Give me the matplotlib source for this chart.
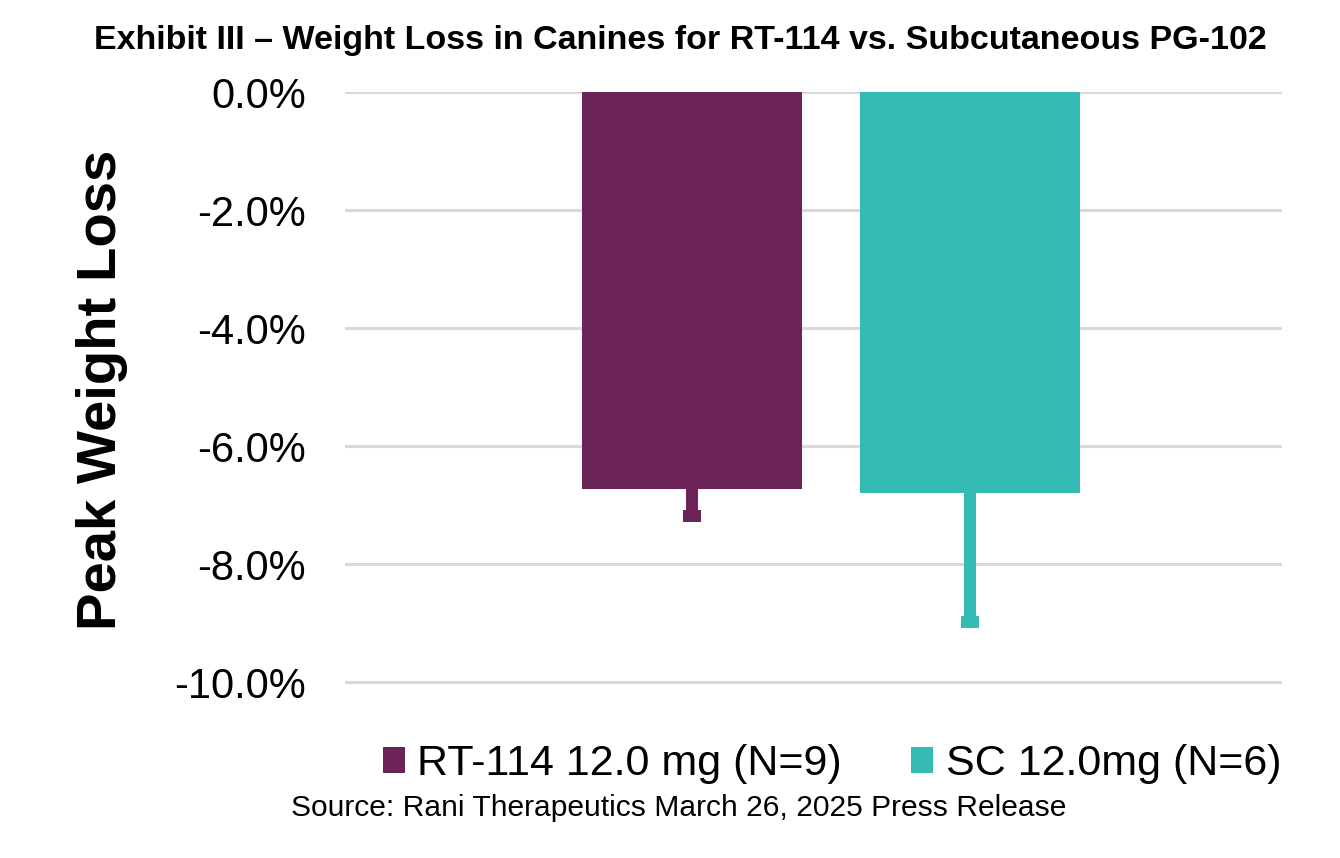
import matplotlib
matplotlib.use("Agg")
import matplotlib.pyplot as plt
from matplotlib.patches import Patch
from matplotlib.ticker import FuncFormatter

plt.rcParams['font.family'] = ['Liberation Sans', 'DejaVu Sans']

series = ["RT-114 12.0 mg (N=9)", "SC 12.0mg (N=6)"]
values = [-6.73, -6.80]
err_lower = [0.45, 2.18]
colors = ["#6B2358", "#35BBB5"]
yticks = [0, -2, -4, -6, -8, -10]

W, H = 1340, 858
fig = plt.figure(figsize=(W / 100, H / 100), dpi=100)
ax = fig.add_axes([345 / W, 1 - 688 / H, (1282 - 345) / W, (688 - 92) / H])

x = [0, 1]
for xi, v, e, c in zip(x, values, err_lower, colors):
    ax.bar(xi, v, width=0.79, color=c, zorder=3)
    low = v - e
    ax.plot([xi, xi], [v, low], color=c, linewidth=8.6, solid_capstyle='butt', zorder=4)
    ax.plot([xi], [low], marker='_', markersize=13, markeredgewidth=8.6, color=c, zorder=4)

ax.set_xlim(-1.248, 2.122)
ax.set_ylim(-10.1, 0)
ax.set_yticks(yticks)
ax.yaxis.set_major_formatter(FuncFormatter(lambda v, p: f"{v:.1f}%"))
ax.tick_params(axis='y', labelsize=30, length=0, pad=28)
ax.set_xticks([])
for s in ax.spines.values():
    s.set_visible(False)
ax.grid(axis='y', color='#D9D9D9', linewidth=2.2, zorder=0)
ax.set_axisbelow(True)

fig.text(102 / W, 1 - 390 / H, "Peak Weight Loss", rotation=90, ha='center', va='center',
         fontsize=40.5, fontweight='bold')
fig.text(680 / W, 1 - 40 / H,
         "Exhibit III \u2013 Weight Loss in Canines for RT-114 vs. Subcutaneous PG-102",
         ha='center', va='center', fontsize=24.5, fontweight='bold')

handles = [Patch(facecolor=c, edgecolor='none') for c in colors]
fig.legend(handles, series, loc='center', bbox_to_anchor=(832 / W, 1 - 764 / H), ncol=2,
           frameon=False, fontsize=31, handlelength=0.52, handleheight=0.57,
           handletextpad=0.29, columnspacing=1.6, borderpad=0, borderaxespad=0)

fig.text(679 / W, 1 - 808 / H, "Source: Rani Therapeutics March 26, 2025 Press Release",
         ha='center', va='center', fontsize=21.6)

fig.savefig("out.png", dpi=100)
